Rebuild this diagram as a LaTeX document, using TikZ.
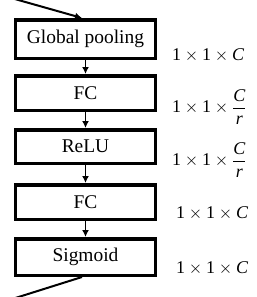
\documentclass[tikz,border=0pt]{standalone}
\usepackage{amsmath}
\usepackage{fontspec}
\setmainfont{Liberation Serif}
\usepackage{tikz}
\usetikzlibrary{arrows.meta}

\newcommand{\dimsize}[1]{$\text{1}\times\text{1}\times#1$}

\begin{document}
\begin{tikzpicture}[x=1bp, y=-1bp,
  layer/.style={draw, line width=3.5bp, minimum width=139.5bp, inner sep=0pt,
    font=\fontsize{19.5}{22}\selectfont},
  dimlabel/.style={anchor=west, inner sep=0pt, font=\fontsize{18}{20}\selectfont},
  flow/.style={line width=1.5bp, -{Latex[length=7bp, width=7bp]}}]
\useasboundingbox (0,0) rectangle (257,297);
\node[layer, minimum height=38.5bp] (Pool) at (85.5,39) {Global pooling};
\node[layer, minimum height=34.5bp] (FCa) at (85.5,93) {FC};
\node[layer, minimum height=33.5bp] (Relu) at (85.5,146.5) {ReLU};
\node[layer, minimum height=34.5bp] (FCb) at (85.5,202) {FC};
\node[layer, minimum height=36.5bp] (Sig) at (85.5,257) {Sigmoid};
\coordinate (In) at (-10,-8);
\coordinate (Out) at (-10,306);
\draw[line width=2bp, -{Latex[length=7bp, width=7bp]}] (In) -- (Pool.north -| 82,0);
\draw[flow] (Pool) -- (FCa);
\draw[flow] (FCa) -- (Relu);
\draw[flow] (Relu) -- (FCb);
\draw[flow] (FCb) -- (Sig);
\draw[line width=2bp] (Sig.south -| 82,0) -- (Out);
\node[dimlabel] (DimA) at (172,55) {\dimsize{\textit{C}}};
\node[dimlabel] (DimB) at (172,107) {\dimsize{\dfrac{\textit{C}}{\textit{r}}}};
\node[dimlabel] (DimC) at (172,160) {\dimsize{\dfrac{\textit{C}}{\textit{r}}}};
\node[dimlabel] (DimD) at (176,213) {\dimsize{\textit{C}}};
\node[dimlabel] (DimE) at (176,268) {\dimsize{\textit{C}}};
\end{tikzpicture}
\end{document}
